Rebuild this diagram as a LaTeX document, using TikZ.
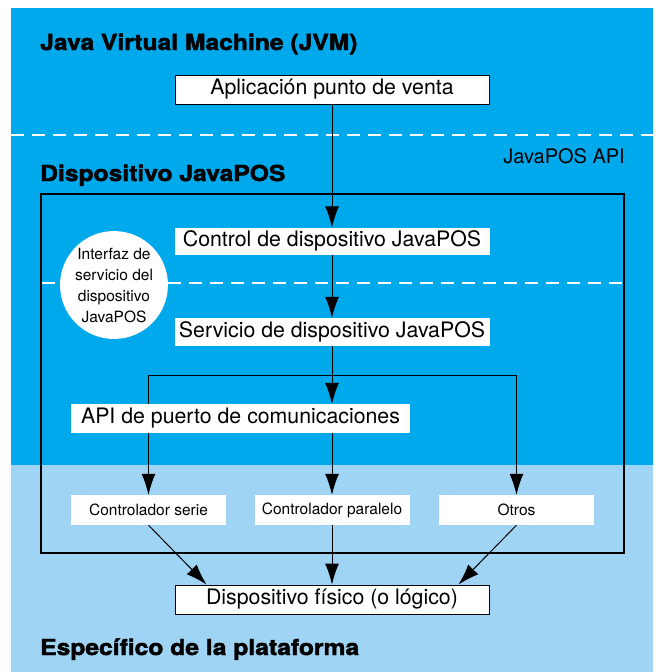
\documentclass[tikz,border=0pt]{standalone}
\usepackage{fontspec}
\setmainfont{TeX Gyre Heros}
\newfontfamily\titlefont{texgyreheros-bold.otf}[FakeBold=2,FakeStretch=1.12]
\usetikzlibrary{arrows.meta,calc}
\definecolor{darkblue}{RGB}{0,169,236}
\definecolor{lightblue}{RGB}{160,212,244}
\pgfdeclarelayer{background}
\pgfdeclarelayer{edges}
\pgfsetlayers{background,edges,main}
\tikzset{
  title/.style={anchor=base west, inner sep=0pt, font=\titlefont\fontsize{22}{26}\selectfont},
  framedbox/.style={draw=black, line width=1pt, fill=white, minimum width=314pt, minimum height=29pt, inner sep=0pt, font=\fontsize{21.3}{24}\selectfont},
  whitebox/.style={fill=white, minimum width=315pt, minimum height=27pt, inner sep=0pt, font=\fontsize{21.3}{24}\selectfont},
  smallbox/.style={fill=white, minimum width=155pt, minimum height=30pt, inner sep=0pt, font=\fontsize{15.5}{18}\selectfont},
  conn/.style={line width=1pt, -{Latex[length=21pt,width=14pt]}},
  plainline/.style={line width=1pt},
  sepline/.style={draw=white, line width=1.5pt, dash pattern=on 13pt off 8pt},
}
\begin{document}
\begin{tikzpicture}[x=1pt,y=-1pt]
\useasboundingbox (0,0) rectangle (661,672);
% backgrounds
\begin{pgfonlayer}{background}
\fill[darkblue] (11,8) rectangle (653,465);
\fill[lightblue] (11,465) rectangle (653,672);
\draw[sepline] (11,135) -- (653,135);
\draw[sepline] (42,283) -- (623,283);
\draw[line width=2.5pt] (41,194) rectangle (624,553);
\end{pgfonlayer}

% titles
\node[title] (tjvm) at (40,50) {Java Virtual Machine (JVM)};
\node[title] (tdev) at (40,181) {Dispositivo JavaPOS};
\node[title] (tplat) at (40,655) {Específico de la plataforma};
\node[anchor=base east, inner sep=0pt, font=\fontsize{20}{24}\selectfont] (tapi) at (625,163) {JavaPOS API};

% boxes
\node[framedbox] (app) at (332,89.5) {Aplicación punto de venta};
\node[whitebox] (ctrl) at (332,241) {Control de dispositivo JavaPOS};
\node[whitebox, minimum height=28pt] (serv) at (332,332) {Servicio de dispositivo JavaPOS};
\node[whitebox, minimum width=339pt, minimum height=29pt] (apicom) at (240.5,418.5) {API de puerto de comunicaciones};
\node[smallbox] (ser) at (148.5,510) {Controlador serie};
\node[smallbox] (par) at (332,510) {Controlador paralelo};
\node[smallbox] (otros) at (516.5,510) {Otros};
\node[framedbox] (fis) at (332,599.5) {Dispositivo físico (o lógico)};

% circle
\node[circle, fill=white, minimum size=106pt, inner sep=0pt, align=center,
      font=\fontsize{15.5}{21}\selectfont] (iface) at (114,285)
      {Interfaz de\\servicio del\\dispositivo\\JavaPOS};

% connectors
\coordinate (jl) at (148.5,375);
\coordinate (jc) at (332,375);
\coordinate (jr) at (516.5,375);
\coordinate (fl) at ($(fis.north west)+(32,0)$);
\coordinate (fr) at ($(fis.north east)+(-31,0)$);
\begin{pgfonlayer}{edges}
\draw[conn] (app.south) -- (ctrl.north);
\draw[conn] (ctrl.south) -- (serv.north);
\draw[plainline] (serv.south) -- (jc);
\draw[plainline] (jl) -- (jr);
\draw[conn] (jc) -- (jc |- apicom.north);
\draw[conn] (jl) -- (ser.north);
\draw[conn] (jr) -- (otros.north);
\draw[conn] (par.north |- apicom.south) -- (par.north);
\draw[conn] (ser.south) -- (fl);
\draw[conn] (par.south) -- (fis.north);
\draw[conn] (otros.south) -- (fr);
\end{pgfonlayer}
\end{tikzpicture}
\end{document}
